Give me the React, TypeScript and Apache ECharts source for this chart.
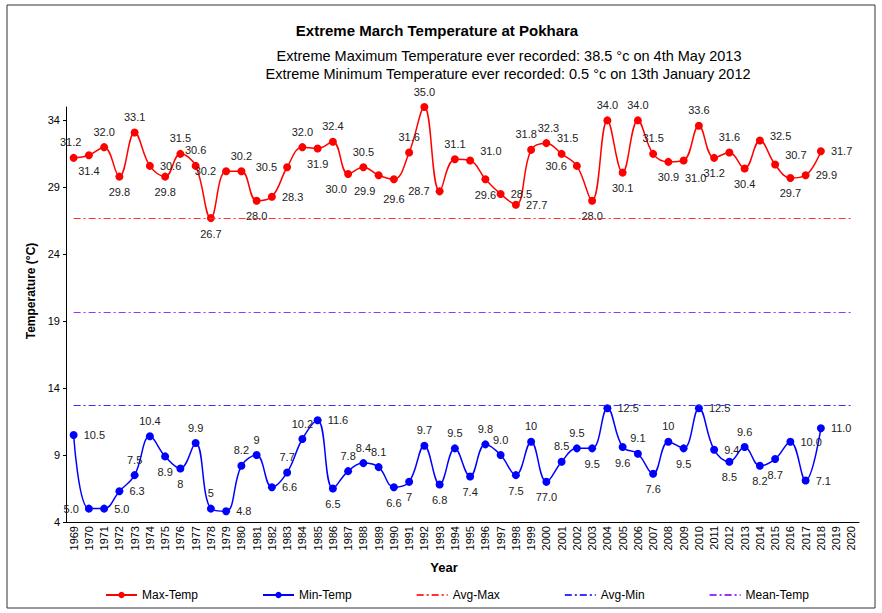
import { useEffect, useRef } from "react";
import * as echarts from "echarts";

const years = [
  "1969", "1970", "1971", "1972", "1973", "1974", "1975", "1976", "1977", "1978",
  "1979", "1980", "1981", "1982", "1983", "1984", "1985", "1986", "1987", "1988",
  "1989", "1990", "1991", "1992", "1993", "1994", "1995", "1996", "1997", "1998",
  "1999", "2000", "2001", "2002", "2003", "2004", "2005", "2006", "2007", "2008",
  "2009", "2010", "2011", "2012", "2013", "2014", "2015", "2016", "2017", "2018",
  "2019", "2020",
];

const maxTemp = [
  31.2, 31.4, 32.0, 29.8, 33.1, 30.6, 29.8, 31.5, 30.6, 26.7,
  30.2, 30.2, 28.0, 28.3, 30.5, 32.0, 31.9, 32.4, 30.0, 30.5,
  29.9, 29.6, 31.6, 35.0, 28.7, 31.1, 31.0, 29.6, 28.5, 27.7,
  31.8, 32.3, 31.5, 30.6, 28.0, 34.0, 30.1, 34.0, 31.5, 30.9,
  31.0, 33.6, 31.2, 31.6, 30.4, 32.5, 30.7, 29.7, 29.9, 31.7,
];

const minTemp = [
  10.5, 5.0, 5.0, 6.3, 7.5, 10.4, 8.9, 8.0, 9.9, 5.0,
  4.8, 8.2, 9.0, 6.6, 7.7, 10.2, 11.6, 6.5, 7.8, 8.4,
  8.1, 6.6, 7.0, 9.7, 6.8, 9.5, 7.4, 9.8, 9.0, 7.5,
  10.0, 7.0, 8.5, 9.5, 9.5, 12.5, 9.6, 9.1, 7.6, 10.0,
  9.5, 12.5, 9.4, 8.5, 9.6, 8.2, 8.7, 10.0, 7.1, 11.0,
];

const minLabels = [
  "10.5", "5.0", "5.0", "6.3", "7.5", "10.4", "8.9", "8", "9.9", "5",
  "4.8", "8.2", "9", "6.6", "7.7", "10.2", "11.6", "6.5", "7.8", "8.4",
  "8.1", "6.6", "7", "9.7", "6.8", "9.5", "7.4", "9.8", "9.0", "7.5",
  "10", "77.0", "8.5", "9.5", "9.5", "12.5", "9.6", "9.1", "7.6", "10",
  "9.5", "12.5", "9.4", "8.5", "9.6", "8.2", "8.7", "10.0", "7.1", "11.0",
];

const avgMax = 26.7;
const avgMin = 12.7;
const meanTemp = 19.7;

const yTicks = { min: 4, max: 35, interval: 5 };

// label placement (style, kept apart from the values)
const maxLabelPos = [
  "top", "bottom", "top", "bottom", "top", "right", "bottom", "top", "top", "bottom",
  "left", "top", "bottom", "right", "left", "top", "bottom", "top", "bottom", "top",
  "bottom", "bottom", "top", "top", "left", "top", "right", "bottom", "right", "right",
  "top", "top", "top", "left", "bottom", "top", "bottom", "top", "top", "bottom",
  "bottom", "top", "bottom", "top", "bottom", "right", "right", "bottom", "right", "right",
];
const maxLabelShift: Record<number, number[]> = {
  0: [-3, 0],
  18: [-12, 0],
  20: [-14, 0],
  21: [0, 4],
  26: [0, -10],
  30: [-5, 0],
  31: [2, 0],
  32: [6, 0],
  40: [12, 2],
  45: [0, -4],
  46: [0, -10],
};
const minLabelPos = [
  "right", "left", "right", "right", "top", "top", "bottom", "bottom", "top", "top",
  "right", "top", "top", "right", "top", "top", "right", "bottom", "top", "top",
  "top", "bottom", "bottom", "top", "bottom", "top", "bottom", "top", "top", "bottom",
  "top", "bottom", "top", "top", "bottom", "right", "bottom", "top", "bottom", "top",
  "bottom", "right", "right", "bottom", "top", "bottom", "bottom", "right", "right", "right",
];

const FONT = "Liberation Sans, Arial, sans-serif";
const DASHDOT = [7, 3, 2, 3];

export default function App() {
  const ref = useRef<HTMLDivElement>(null);
  useEffect(() => {
    document.body.style.margin = "0";
    const chart = echarts.init(ref.current!, undefined, { renderer: "svg" });
    const first = years[0];
    const last = years[years.length - 1];
    const avgSeries = (name: string, value: number, color: string) => ({
      name,
      type: "line",
      data: [],
      symbol: "none",
      symbolSize: 0,
      lineStyle: { color, width: 1, type: DASHDOT },
      itemStyle: { color, opacity: 0 },
      markLine: {
        silent: true,
        symbol: "none",
        label: { show: false },
        lineStyle: { color, width: 1, type: DASHDOT, opacity: 1 },
        data: [[{ coord: [first, value] }, { coord: [last, value] }]],
      },
    });
    chart.setOption({
      animation: false,
      textStyle: { fontFamily: FONT },
      grid: { left: 66, right: 23, top: 107, bottom: 91, containLabel: false },
      xAxis: {
        type: "category",
        data: years,
        boundaryGap: true,
        axisLine: { lineStyle: { color: "#000", width: 1 } },
        axisTick: { interval: 0, length: 4, lineStyle: { color: "#000" } },
        axisLabel: { interval: 0, rotate: 90, fontSize: 11, color: "#000", fontFamily: FONT, margin: 4 },
        splitLine: { show: false },
      },
      yAxis: {
        type: "value",
        min: yTicks.min,
        max: yTicks.max,
        interval: yTicks.interval,
        axisLine: { show: true, lineStyle: { color: "#000", width: 1 } },
        axisTick: { show: true, length: 3, lineStyle: { color: "#000" } },
        axisLabel: { fontSize: 11, color: "#000", fontFamily: FONT, showMaxLabel: false, margin: 6 },
        splitLine: { show: false },
      },
      legend: {
        left: 100,
        top: 584,
        itemWidth: 31,
        itemHeight: 8,
        itemGap: 64,
        textStyle: { fontSize: 12, color: "#000", fontFamily: FONT },
        data: [
          { name: "Max-Temp" },
          { name: "Min-Temp" },
          { name: "Avg-Max", itemStyle: { opacity: 0 } },
          { name: "Avg-Min", itemStyle: { opacity: 0 } },
          { name: "Mean-Temp", itemStyle: { opacity: 0 } },
        ],
      },
      series: [
        {
          name: "Max-Temp",
          type: "line",
          smooth: 0.4,
          symbol: "circle",
          symbolSize: 8,
          lineStyle: { color: "#ff0000", width: 1.5 },
          itemStyle: { color: "#ff0000" },
          label: { show: true, fontSize: 11, color: "#222", fontFamily: FONT, distance: 6, formatter: (p: any) => p.value.toFixed(1) },
          data: maxTemp.map((v, i) => ({
            value: v,
            label: { position: maxLabelPos[i], offset: maxLabelShift[i] || [0, 0] },
          })),
        },
        {
          name: "Min-Temp",
          type: "line",
          smooth: 0.4,
          symbol: "circle",
          symbolSize: 8,
          lineStyle: { color: "#0000ff", width: 1.5 },
          itemStyle: { color: "#0000ff" },
          label: { show: true, fontSize: 11, color: "#222", fontFamily: FONT, distance: 6, formatter: (p: any) => minLabels[p.dataIndex] },
          data: minTemp.map((v, i) => ({ value: v, label: { position: minLabelPos[i] } })),
        },
        avgSeries("Avg-Max", avgMax, "#ff3333"),
        avgSeries("Avg-Min", avgMin, "#3333ff"),
        avgSeries("Mean-Temp", meanTemp, "#9933ff"),
      ],
      graphic: [
        {
          type: "rect",
          shape: { x: 7, y: 5, width: 868, height: 603 },
          style: { fill: "none", stroke: "#333", lineWidth: 1 },
          silent: true,
          z: -1,
        },
        {
          type: "text",
          x: 437,
          y: 30,
          style: { text: "Extreme March Temperature at Pokhara", font: `bold 15px ${FONT}`, fill: "#000", textAlign: "center", textVerticalAlign: "middle" },
        },
        {
          type: "text",
          x: 509,
          y: 56,
          style: { text: "Extreme Maximum Temperature ever recorded: 38.5 °c on 4th May 2013", font: `14.5px ${FONT}`, fill: "#000", textAlign: "center", textVerticalAlign: "middle" },
        },
        {
          type: "text",
          x: 508,
          y: 74,
          style: { text: "Extreme Minimum Temperature ever recorded: 0.5 °c on 13th January 2012", font: `14.5px ${FONT}`, fill: "#000", textAlign: "center", textVerticalAlign: "middle" },
        },
        {
          type: "text",
          x: 31,
          y: 291,
          rotation: Math.PI / 2,
          style: { text: "Temperature (°C)", font: `bold 12px ${FONT}`, fill: "#000", textAlign: "center", textVerticalAlign: "middle" },
        },
        {
          type: "text",
          x: 444,
          y: 567,
          style: { text: "Year", font: `bold 13px ${FONT}`, fill: "#000", textAlign: "center", textVerticalAlign: "middle" },
        },
      ],
    });
    return () => chart.dispose();
  }, []);
  return <div ref={ref} style={{ width: 882, height: 613 }} />;
}
